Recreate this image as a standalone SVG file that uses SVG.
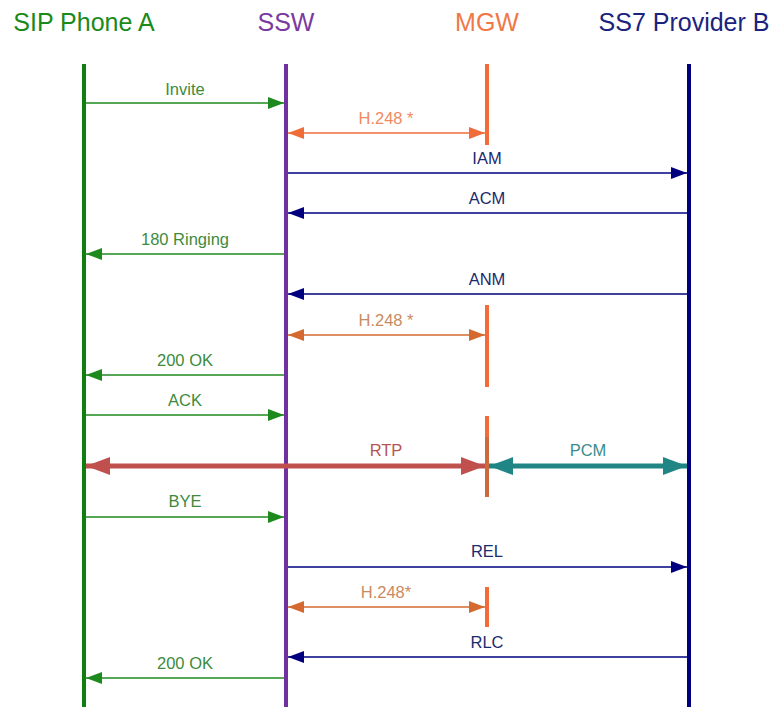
<svg xmlns="http://www.w3.org/2000/svg" width="780" height="707" viewBox="0 0 780 707">
<style>
.title{font-family:"Liberation Sans",Arial,sans-serif;font-size:25px;text-anchor:middle}
.lbl{font-family:"Liberation Sans",Arial,sans-serif;font-size:16.5px;text-anchor:middle}
.life{stroke-width:4;fill:none}
.msg{fill:none;stroke-width:1.4}
.thick{fill:none;stroke-width:5}
.g{stroke:#1e8a1e}
.n{stroke:#00007f}
.o1{stroke:#f06c38}
.o2{stroke:#d46a30}
</style>
<defs>
<marker id="mg" viewBox="0 0 16 12" refX="16" refY="6" markerWidth="16" markerHeight="12" markerUnits="userSpaceOnUse" orient="auto-start-reverse"><path d="M0,0 L16,6 L0,12 z" fill="#1e8a1e"/></marker>
<marker id="mn" viewBox="0 0 16 12" refX="16" refY="6" markerWidth="16" markerHeight="12" markerUnits="userSpaceOnUse" orient="auto-start-reverse"><path d="M0,0 L16,6 L0,12 z" fill="#00007f"/></marker>
<marker id="mo1" viewBox="0 0 16 12" refX="16" refY="6" markerWidth="16" markerHeight="12" markerUnits="userSpaceOnUse" orient="auto-start-reverse"><path d="M0,0 L16,6 L0,12 z" fill="#f06c38"/></marker>
<marker id="mo2" viewBox="0 0 16 12" refX="16" refY="6" markerWidth="16" markerHeight="12" markerUnits="userSpaceOnUse" orient="auto-start-reverse"><path d="M0,0 L16,6 L0,12 z" fill="#d46a30"/></marker>
<marker id="mr" viewBox="0 0 24 18" refX="24" refY="9" markerWidth="24" markerHeight="18" markerUnits="userSpaceOnUse" orient="auto-start-reverse"><path d="M0,0 L24,9 L0,18 z" fill="#c0504d"/></marker>
<marker id="mt" viewBox="0 0 24 18" refX="24" refY="9" markerWidth="24" markerHeight="18" markerUnits="userSpaceOnUse" orient="auto-start-reverse"><path d="M0,0 L24,9 L0,18 z" fill="#1f8585"/></marker>
</defs>
<rect width="780" height="707" fill="#ffffff"/>

<g id="sip-phone-a">
<text class="title" x="84" y="31" fill="#1a8a1a">SIP Phone A</text>
<line class="life" x1="84" y1="64" x2="84" y2="707" stroke="#0f7f0f"/>
</g>
<g id="ssw">
<text class="title" x="286" y="31" fill="#7a3aa0">SSW</text>
<line class="life" x1="286" y1="64" x2="286" y2="707" stroke="#7030a0"/>
</g>
<g id="mgw">
<text class="title" x="487" y="31" fill="#f07848">MGW</text>
<line class="life" x1="487" y1="64" x2="487" y2="145" stroke="#f26b3a"/>
<line class="life" x1="487" y1="305" x2="487" y2="387" stroke="#f26b3a"/>
<line class="life" x1="487" y1="416" x2="487" y2="437" stroke="#f26b3a"/>
<line class="life" x1="487" y1="437" x2="487" y2="497" stroke="#cc6a3c"/>
<line class="life" x1="487" y1="587" x2="487" y2="627" stroke="#f26b3a"/>
</g>
<g id="ss7-provider-b">
<text class="title" x="684" y="31" fill="#1a237e">SS7 Provider B</text>
<line class="life" x1="689" y1="64" x2="689" y2="707" stroke="#00007f"/>
</g>

<g id="connectors">
<path class="msg g" d="M86,103 H284" marker-end="url(#mg)"/>
<path class="msg o1" d="M288,133 H485" marker-start="url(#mo1)" marker-end="url(#mo1)"/>
<path class="msg n" d="M288,173 H687" marker-end="url(#mn)"/>
<path class="msg n" d="M687,213 H288" marker-end="url(#mn)"/>
<path class="msg g" d="M284,254 H86" marker-end="url(#mg)"/>
<path class="msg n" d="M687,294 H288" marker-end="url(#mn)"/>
<path class="msg o2" d="M288,335 H485" marker-start="url(#mo2)" marker-end="url(#mo2)"/>
<path class="msg g" d="M284,375 H86" marker-end="url(#mg)"/>
<path class="msg g" d="M86,415 H284" marker-end="url(#mg)"/>
<path class="thick" stroke="#c0504d" d="M86,466 H485" marker-start="url(#mr)" marker-end="url(#mr)"/>
<path class="thick" stroke="#1f8585" d="M489,466 H687" marker-start="url(#mt)" marker-end="url(#mt)"/>
<path class="msg g" d="M86,517 H284" marker-end="url(#mg)"/>
<path class="msg n" d="M288,567 H687" marker-end="url(#mn)"/>
<path class="msg o2" d="M288,607 H485" marker-start="url(#mo2)" marker-end="url(#mo2)"/>
<path class="msg n" d="M687,657 H288" marker-end="url(#mn)"/>
<path class="msg g" d="M284,678 H86" marker-end="url(#mg)"/>

<text class="lbl" x="185" y="95" fill="#3d8b3d">Invite</text>
<text class="lbl" x="386" y="124" fill="#f08a62">H.248 *</text>
<text class="lbl" x="487" y="164" fill="#1c2a6e">IAM</text>
<text class="lbl" x="487" y="204" fill="#1c2a6e">ACM</text>
<text class="lbl" x="185" y="245" fill="#3d8b3d">180 Ringing</text>
<text class="lbl" x="487" y="285" fill="#1c2a6e">ANM</text>
<text class="lbl" x="386" y="326" fill="#c98a62">H.248 *</text>
<text class="lbl" x="185" y="366" fill="#3d8b3d">200 OK</text>
<text class="lbl" x="185" y="406" fill="#3d8b3d">ACK</text>
<text class="lbl" x="386" y="456" fill="#b55555">RTP</text>
<text class="lbl" x="588" y="456" fill="#3a8c8c">PCM</text>
<text class="lbl" x="185" y="507" fill="#3d8b3d">BYE</text>
<text class="lbl" x="487" y="557" fill="#1c2a6e">REL</text>
<text class="lbl" x="386" y="598" fill="#c98a62">H.248*</text>
<text class="lbl" x="487" y="648" fill="#1c2a6e">RLC</text>
<text class="lbl" x="185" y="669" fill="#3d8b3d">200 OK</text>
</g>
</svg>
